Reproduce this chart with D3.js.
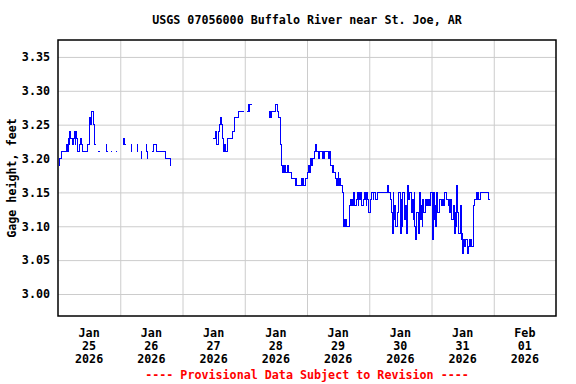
<!DOCTYPE html>
<html>
<head>
<meta charset="utf-8">
<script src="https://cdn.jsdelivr.net/npm/d3@7"></script>
<style>
  body { margin: 0; background: #fff; }
  svg text { font-family: "DejaVu Sans Mono", "Liberation Mono", monospace; font-weight: bold; }
</style>
</head>
<body>
<svg id="chart"></svg>
<script>
const svgWidth = 576, svgHeight = 384;
const margin = {top: 40, right: 20, bottom: 68, left: 58};
const width = svgWidth - margin.left - margin.right,
      height = svgHeight - margin.top - margin.bottom;

const startDate = new Date(2026, 0, 25);
const endDate = new Date(2026, 1, 2);

// hours after Jan 25 00:00, null = gap in record
const hours = [
  0.2, 0.6, 1.2, 3.1, 3.5, 3.9, 4.2, 4.6, 5.0, 5.4, 5.8, 6.2, 6.6, 6.9, 7.3, 7.7, 8.1, 8.5, 8.9, 9.3,
  10.0, 11.4, 12.0, 12.3, 12.7, 13.1, 13.5, 13.9, 14.5, null,
  15.6, 16.0, null,
  18.5, 18.8, 19.1, null,
  20.6, 21.0, null,
  22.4, 22.8, null,
  25.1, 25.4, 25.8, 26.1, null,
  28.0, 28.3, 28.6, null,
  30.4, 30.7, 31.0, null,
  31.9, 32.2, 32.5, null,
  33.8, 34.1, 34.4, 34.7, null,
  36.2, 36.8, 37.8, 41.4, 43.2, 43.6, null,
  59.9, 60.7, 61.1, 61.3, 61.7, 62.1, 62.6, 63.2, 63.5, 63.8, 64.2, 64.6, 65.2, 65.5,
  67.1, 67.9, 68.2, 69.4, 71.7, null,
  72.9, 73.3, 73.6, 74.0, 74.8, null,
  81.3, 81.7, 82.1, 82.5, 84.0, 84.8, 85.2, 85.8, 86.0, 86.4, 86.7, 87.1, 87.5, 87.9, 88.3, 88.7,
  90.2, 91.4, 91.8, 92.1, 93.7, 94.1, 94.5, 94.8, 95.4, 96.0, 96.4, 96.8, 97.2, 97.5, 97.9, 98.3,
  98.7, 99.1, 99.5, 100.6, 101.0, 101.8, 102.2, 102.6, 102.9, 104.1, 104.5, 104.9, 105.7, 106.0,
  106.4, 106.8, 107.2, 107.6, 108.0, 108.3, 108.7, 109.1, 109.5, 110.0, 110.2, 110.6, 111.0, 111.4,
  112.2, 112.6, 113.0, 113.3, 113.7, 114.1, 114.5, 114.9, 115.3, 115.7, 116.0, 116.4, 116.8, 117.2,
  117.6, 118.0, 118.4, 118.8, 119.1, 119.5, 119.9, 120.3, 120.7, 121.5, 121.8, 122.6, 123.0, 127.2,
  127.6, 128.0, 128.4, 128.8, 129.2, 129.5, 129.9, 130.3, 130.7, 131.1, 131.9, 132.3, 132.6, 133.0,
  133.4, 133.8, 134.2, 134.6, 134.9, 135.3, 135.7, 136.1, 136.5, 136.9, 137.3, 137.6, 138.0, 138.4,
  138.8, 139.2, 139.6, 140.0, 140.4, 140.7, 141.1, 141.5, 141.9, 142.3, 142.7, 143.1, 143.4, 143.8,
  144.2, 144.6, 145.0, 145.4, 145.7, 146.1, 146.5, 146.9, 147.7, 148.1, 148.8, 149.2, 149.6, 150.4,
  150.7, 151.1, 151.5, 151.9, 152.3, 152.7, 153.1, 153.4, 153.8, 154.2, 154.6, 155.0, 155.4, 155.8,
  156.1, 156.5, 156.9, 157.3, 157.7, 158.1, 158.5, 158.8, 159.2, 159.6, 160.0, 160.4, 161.2, 161.5,
  161.9, 162.3, 162.7, 165.8, 166.5
];

// gage height, feet
const gage = [
  3.19, 3.20, 3.21, 3.22, 3.21, 3.23, 3.22, 3.24, 3.23, 3.22, 3.23, 3.24, 3.22, 3.24, 3.23, 3.21, 3.22, 3.23, 3.22, 3.21,
  3.21, 3.22, 3.24, 3.26, 3.25, 3.27, 3.25, 3.22, 3.22, null,
  3.21, 3.21, null,
  3.22, 3.21, 3.21, null,
  3.21, 3.21, null,
  3.21, 3.21, null,
  3.22, 3.23, 3.22, 3.22, null,
  3.22, 3.21, 3.21, null,
  3.22, 3.21, 3.21, null,
  3.21, 3.20, 3.20, null,
  3.22, 3.21, 3.20, 3.20, null,
  3.21, 3.22, 3.21, 3.20, 3.19, 3.19, null,
  3.23, 3.24, 3.23, 3.22, 3.24, 3.25, 3.26, 3.25, 3.23, 3.21, 3.22, 3.21, 3.22, 3.23,
  3.24, 3.25, 3.26, 3.27, 3.27, null,
  3.27, 3.28, 3.27, 3.28, 3.28, null,
  3.26, 3.27, 3.26, 3.27, 3.28, 3.27, 3.26, 3.22, 3.19, 3.18, 3.19, 3.18, 3.19, 3.18, 3.19, 3.18,
  3.17, 3.16, 3.17, 3.16, 3.17, 3.16, 3.17, 3.16, 3.17, 3.18, 3.19, 3.18, 3.19, 3.20, 3.19, 3.20,
  3.21, 3.22, 3.21, 3.20, 3.21, 3.20, 3.21, 3.20, 3.21, 3.20, 3.21, 3.19, 3.18, 3.19,
  3.18, 3.17, 3.16, 3.17, 3.18, 3.16, 3.17, 3.16, 3.15, 3.10, 3.11, 3.10, 3.11, 3.10,
  3.13, 3.14, 3.13, 3.14, 3.13, 3.15, 3.13, 3.14, 3.15, 3.13, 3.15, 3.14, 3.15, 3.13,
  3.14, 3.15, 3.14, 3.13, 3.15, 3.14, 3.12, 3.14, 3.15, 3.14, 3.15, 3.14, 3.15, 3.16,
  3.15, 3.14, 3.12, 3.09, 3.15, 3.11, 3.13, 3.10, 3.12, 3.15, 3.09, 3.14, 3.10, 3.15,
  3.11, 3.13, 3.09, 3.12, 3.16, 3.14, 3.15, 3.12, 3.14, 3.11, 3.15, 3.10, 3.08, 3.12,
  3.09, 3.15, 3.11, 3.13, 3.10, 3.14, 3.12, 3.14, 3.13, 3.14, 3.13, 3.14, 3.13, 3.15,
  3.08, 3.15, 3.11, 3.13, 3.10, 3.15, 3.12, 3.14, 3.13, 3.14, 3.13, 3.15, 3.14, 3.13,
  3.14, 3.12, 3.14, 3.11, 3.13, 3.09, 3.12, 3.10, 3.16, 3.12, 3.09, 3.13, 3.08, 3.09,
  3.06, 3.08, 3.07, 3.08, 3.06, 3.07, 3.08, 3.07, 3.08, 3.07, 3.13, 3.14, 3.15, 3.14,
  3.15, 3.14, 3.15, 3.14, 3.14
];

const yTicks = [3.00, 3.05, 3.10, 3.15, 3.20, 3.25, 3.30, 3.35];
const dayLabels = [
  ["Jan", "25", "2026"], ["Jan", "26", "2026"], ["Jan", "27", "2026"], ["Jan", "28", "2026"],
  ["Jan", "29", "2026"], ["Jan", "30", "2026"], ["Jan", "31", "2026"], ["Feb", "01", "2026"]
];

const chart = d3.select('#chart')
    .attr("width", svgWidth)
    .attr("height", svgHeight);

const g = chart.append("g")
    .attr("transform", `translate(${margin.left},${margin.top})`);

var xScale = d3.scaleTime().domain([startDate, endDate]).range([0, width]);
var yScale = d3.scaleLinear().domain([2.9675, 3.375]).range([height, 0]);

// grid lines
var days = d3.timeDay.range(d3.timeDay.offset(startDate, 1), endDate);
g.append("g")
    .attr("class", "xgrid")
    .call(d3.axisBottom(xScale).tickValues(days).tickSize(height).tickFormat(""))
    .call(s => s.select(".domain").remove())
    .selectAll("line").attr("stroke", "#cccccc");

g.append("g")
    .attr("class", "ygrid")
    .call(d3.axisLeft(yScale).tickValues(yTicks).tickSize(-width).tickFormat(""))
    .call(s => s.select(".domain").remove())
    .selectAll("line").attr("stroke", "#cccccc");

// y tick labels
g.append("g")
    .call(d3.axisLeft(yScale).tickValues(yTicks).tickSize(0).tickPadding(8).tickFormat(d3.format(".2f")))
    .call(s => s.select(".domain").remove())
    .selectAll("text")
    .style("font-size", "11.7px")
    .attr("fill", "#000");

// x labels at noon of each day
var noons = d3.timeDay.range(startDate, endDate).map(d => d3.timeHour.offset(d, 12));
var xl = g.append("g").attr("transform", `translate(0,${height})`);
noons.forEach(function(d, i) {
    var t = xl.append("text")
        .attr("x", xScale(d))
        .attr("y", 21)
        .attr("text-anchor", "middle")
        .style("font-size", "11.7px");
    dayLabels[i].forEach(function(s, j) {
        t.append("tspan").attr("x", xScale(d)).attr("dy", j == 0 ? 0 : 13).text(s);
    });
});

// data line
var pts = hours.map((h, i) => ({date: h == null ? null : d3.timeMinute.offset(startDate, Math.round(h * 60)), value: gage[i]}));
var valueline = d3.line()
    .defined(d => d.value != null)
    .x(d => xScale(d.date))
    .y(d => yScale(d.value))
    .curve(d3.curveStepAfter);

g.append("path")
    .datum(pts)
    .attr("fill", "none")
    .attr("stroke", "#0000ff")
    .attr("stroke-width", 1)
    .attr("shape-rendering", "crispEdges")
    .attr("d", valueline);

// frame
g.append("rect")
    .attr("x", 0).attr("y", 0)
    .attr("width", width).attr("height", height)
    .attr("fill", "none")
    .attr("stroke", "#000")
    .attr("stroke-width", 1.5);

// title
chart.append("text")
    .attr("x", margin.left + width / 2)
    .attr("y", 24)
    .attr("text-anchor", "middle")
    .style("font-size", "11.7px")
    .text("USGS 07056000 Buffalo River near St. Joe, AR");

chart.append("text")
    .attr("transform", "rotate(-90)")
    .attr("x", -(margin.top + height / 2))
    .attr("y", 16)
    .attr("text-anchor", "middle")
    .style("font-size", "11.7px")
    .text("Gage height, feet");

chart.append("text")
    .attr("x", margin.left + width / 2)
    .attr("y", 379)
    .attr("text-anchor", "middle")
    .attr("fill", "#ff0000")
    .style("font-size", "11.7px")
    .text("---- Provisional Data Subject to Revision ----");
</script>
</body>
</html>
